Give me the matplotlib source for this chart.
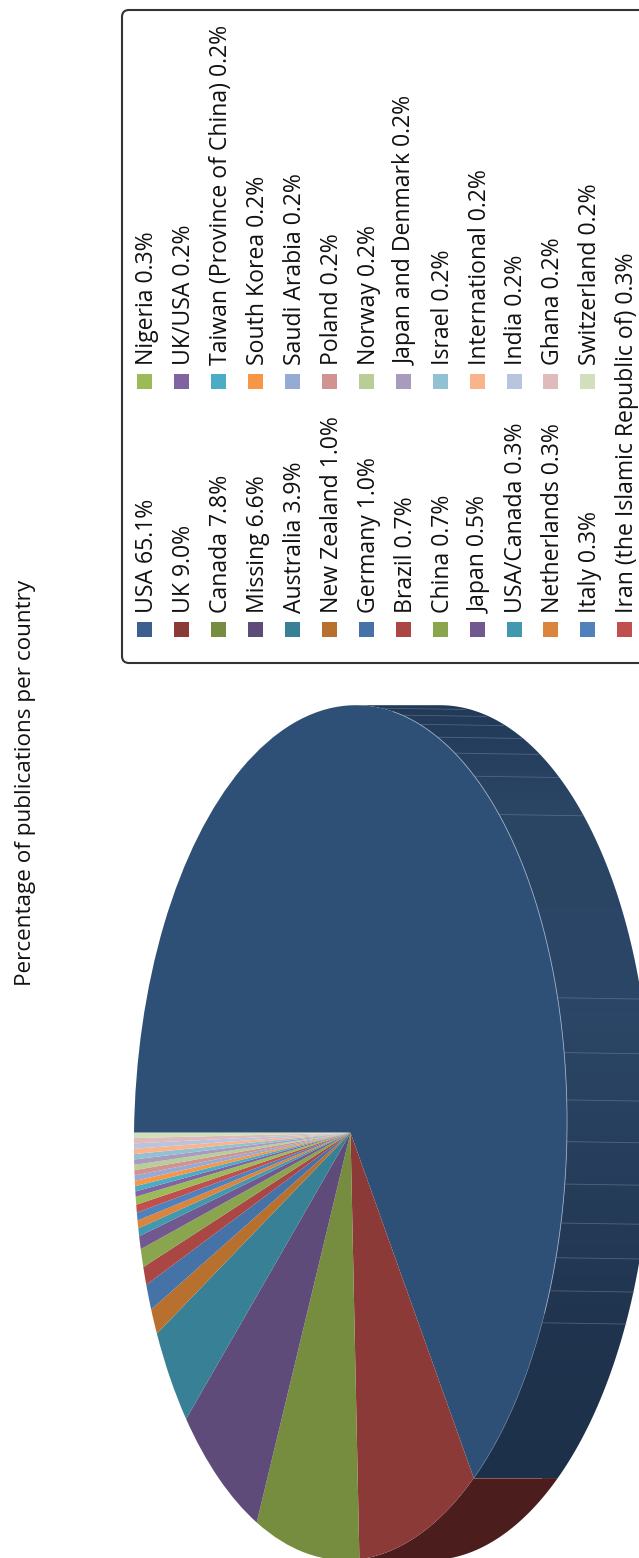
import numpy as np
import matplotlib
matplotlib.use('Agg')
import matplotlib.pyplot as plt
from matplotlib.colors import LinearSegmentedColormap
from matplotlib.patches import FancyBboxPatch, Polygon, Rectangle
from matplotlib.transforms import Affine2D

countries = ['USA', 'UK', 'Canada', 'Missing', 'Australia', 'New Zealand', 'Germany',
             'Brazil', 'China', 'Japan', 'USA/Canada', 'Netherlands', 'Italy',
             'Iran (the Islamic Republic of)', 'Nigeria', 'UK/USA',
             'Taiwan (Province of China)', 'South Korea', 'Saudi Arabia', 'Poland',
             'Norway', 'Japan and Denmark', 'Israel', 'International', 'India',
             'Ghana', 'Switzerland']
percent = [65.1, 9.0, 7.8, 6.6, 3.9, 1.0, 1.0, 0.7, 0.7, 0.5, 0.3, 0.3, 0.3,
           0.3, 0.3, 0.2, 0.2, 0.2, 0.2, 0.2, 0.2, 0.2, 0.2, 0.2, 0.2, 0.2, 0.2]
colors = ['#2f5076', '#8c3a38', '#768c3f', '#5f4b79', '#378095', '#b8702f', '#4572a7',
          '#aa4643', '#89a54e', '#71588f', '#4198af', '#db843d', '#4f81bd', '#c0504d',
          '#9bbb59', '#8064a2', '#4bacc6', '#f79646', '#95abd3', '#d19392', '#b9cd96',
          '#a99bbd', '#93c1d4', '#fab48c', '#b9c4de', '#e0bbbb', '#d1dfbc']
key_colors = ['#3b6090'] + colors[1:]

# angles on the pie rim where the side wall shows a seam
seam_angles = [83.2, 77.6, 72.8, 67.7, 62.6, 56.5, 48.1, 18.4, 10.8, 4.4, -1.2,
               -6.9, -12.2, -17.0, -21.7, -26.4]

W, H = 639, 1558
CX, CY, RX, RY = 350.5, 1132.7, 216.5, 427.5
DEPTH = 84 / RX
SHEAR = 0.0247  # the disc leans a little, top to the right
START = 180

fig = plt.figure(figsize=(W / 100, H / 100), dpi=100)
ax = fig.add_axes([0, 0, 1, 1])
xlim = (-CX / RX, (W - CX) / RX)
ylim = ((CY - H) / RY, CY / RY)
disc = Affine2D(np.array([[1, SHEAR, 0], [0, 1, 0], [0, 0, 1]])) + ax.transData

# side wall of the USA and UK slices
usa_end = START - 360 * percent[0] / sum(percent)
uk_end = usa_end - 360 * percent[1] / sum(percent)


def band(t0, t1):
    t = np.radians(np.linspace(t0, t1, 200))
    front = np.column_stack([np.cos(t), np.sin(t)])
    back = front[::-1] + [DEPTH, 0]
    return np.vstack([front, back])


wall_cmap = LinearSegmentedColormap.from_list('wall', [
    (0.0, '#223a58'), (0.12, '#2a4464'), (0.40, '#2b4666'),
    (0.58, '#273f5d'), (0.80, '#20344f'), (1.0, '#1c3049')])
usa_wall = Polygon(band(90, usa_end), closed=True, transform=disc, fc='none', ec='none')
ax.add_patch(usa_wall)
grad = ax.imshow(np.linspace(0, 1, 256)[:, None], cmap=wall_cmap, aspect='auto',
                 extent=(-1.2, 1.2 + DEPTH, np.sin(np.radians(usa_end)), 1), origin='upper', zorder=1)
grad.set_clip_path(usa_wall)
ax.add_patch(Polygon(band(usa_end, uk_end), closed=True, fc='#4b1e1d', ec='none', zorder=1,
                     transform=disc))

for a in seam_angles:
    x, y = np.cos(np.radians(a)), np.sin(np.radians(a))
    ax.plot([x, x + DEPTH], [y, y - 0.003], color='#6a8097', lw=0.6, alpha=0.6, zorder=2,
            transform=disc)
x, y = np.cos(np.radians(usa_end)), np.sin(np.radians(usa_end))
ax.plot([x, x + DEPTH * 0.8], [y, y], color='#8a5f5d', lw=0.7, zorder=2, transform=disc)

wedges, _ = ax.pie(percent, colors=colors, startangle=START, counterclock=False,
                   wedgeprops={'linewidth': 0})
for w in wedges:
    w.set_zorder(3)
    w.set_transform(disc)

# pale rim along the front of the wall
t = np.radians(np.linspace(80, -25, 200))
ax.plot(np.cos(t), np.sin(t), color='#93a7bd', lw=0.6, zorder=4, transform=disc)
t = np.radians(np.linspace(-25, usa_end, 100))
ax.plot(np.cos(t), np.sin(t), color='#5d7590', lw=0.5, zorder=4, transform=disc)

ax.set_aspect('auto')
ax.set_xlim(xlim)
ax.set_ylim(ylim)
ax.axis('off')

# legend and title sit on a layer measured in figure pixels
lay = fig.add_axes([0, 0, 1, 1], facecolor='none')
lay.set_xlim(0, W)
lay.set_ylim(H, 0)
lay.axis('off')

plt.rcParams['font.family'] = ['Open Sans', 'DejaVu Sans']
lay.text(31, 783, 'Percentage of publications per country', rotation=90, fontsize=16.2,
         ha='center', va='baseline', rotation_mode='anchor', color='#111111')

lay.add_patch(FancyBboxPatch((122, 10), 560, 653, boxstyle='round,pad=0,rounding_size=7',
                             fc='white', ec='#333333', lw=1.5))

ROWS = 14
for i, (name, pct, col) in enumerate(zip(countries, percent, key_colors)):
    row = i % ROWS
    y0 = 622 if i < ROWS else 374
    x0 = 137 + 36.95 * row
    lay.add_patch(Rectangle((x0, y0), 15, 15, fc=col, ec='none'))
    lay.text(x0 + 16, y0 - 9, f'{name} {pct:.1f}%', rotation=90, fontsize=16.6,
             ha='left', va='baseline', rotation_mode='anchor', color='#111111')

fig.savefig('out.png', dpi=100)
